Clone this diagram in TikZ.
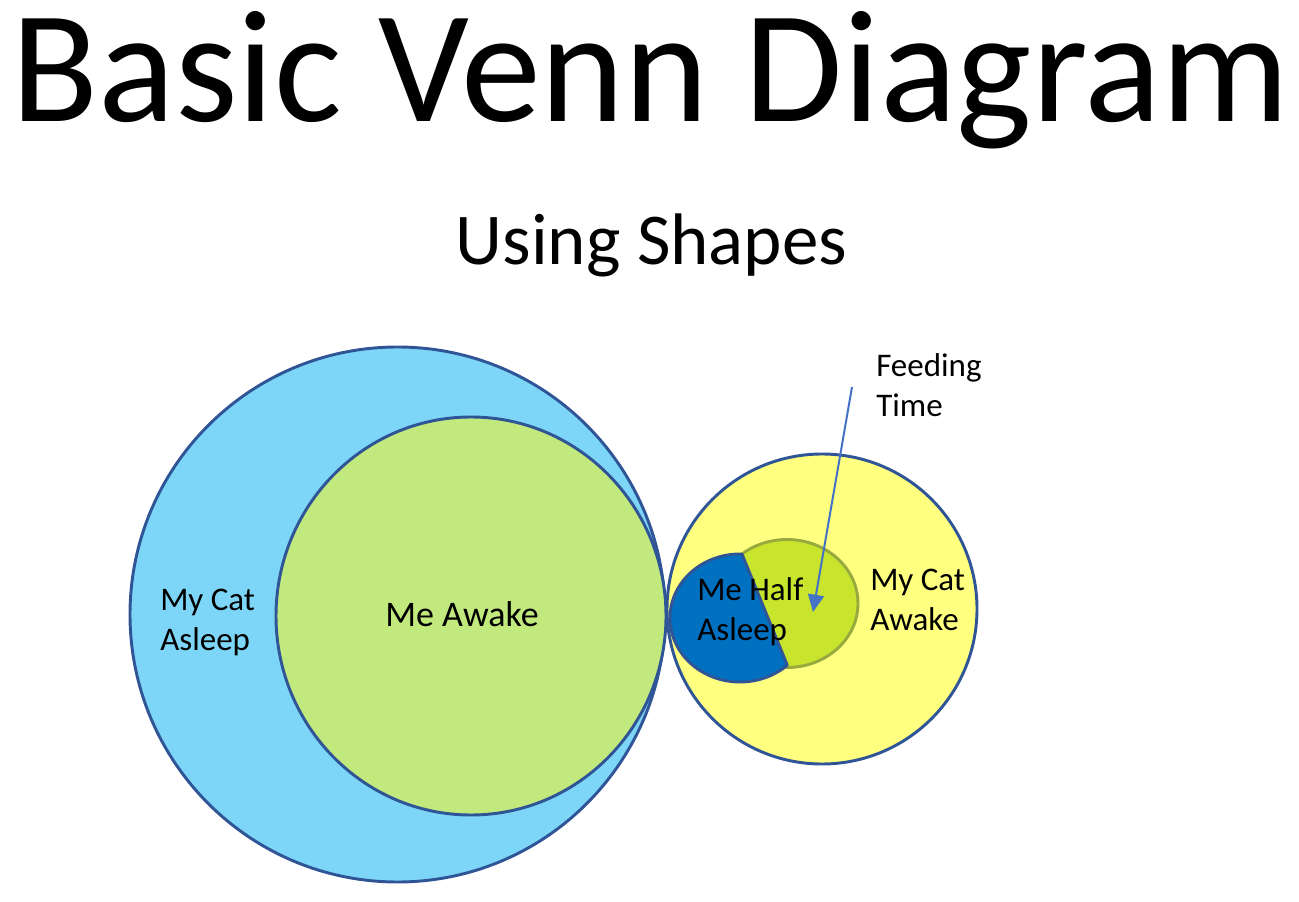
\documentclass[tikz,border=0pt]{standalone}
\usepackage{fontspec}
\setmainfont{Carlito}
\usetikzlibrary{arrows.meta}
\definecolor{skyfill}{RGB}{125,214,247}
\definecolor{edgeblue}{RGB}{47,85,151}
\definecolor{limefill}{RGB}{194,233,125}
\definecolor{yelfill}{RGB}{255,255,128}
\definecolor{deepblue}{RGB}{0,112,192}
\definecolor{chartfill}{RGB}{201,228,44}
\definecolor{oliveedge}{RGB}{152,170,62}
\definecolor{arrowblue}{RGB}{68,114,196}
\tikzset{
  setshape/.style={draw=edgeblue, line width=2.2pt},
  lbl/.style={font=\fontsize{24.75}{30}\selectfont, align=left, anchor=base west, inner sep=0pt},
}
\begin{document}
\begin{tikzpicture}[x=0.75pt,y=0.75pt]
\useasboundingbox (0,0) rectangle (1299,901);
% sets
\draw[setshape, fill=skyfill] (397.5,286.5) circle[radius=267.5];
\draw[setshape, fill=limefill] (471,285) ellipse[x radius=195, y radius=199];
\draw[setshape, fill=yelfill] (822,292) circle[radius=155];
\draw[draw=oliveedge, line width=2.2pt, fill=chartfill] (787,297.5) ellipse[x radius=71, y radius=64];
\draw[setshape, fill=deepblue, line join=round]
  (741.95,346.97) arc[start angle=88.4, end angle=312.5, x radius=70, y radius=64] -- cycle;
% titles
\node[font=\fontsize{120}{140}\selectfont, anchor=base, inner sep=0pt] (title) at (650.5,779) {Basic Venn Diagram};
\node[font=\fontsize{54.75}{66}\selectfont, anchor=base, inner sep=0pt] (sub) at (651.5,636) {Using Shapes};
% labels
\node[font=\fontsize{27}{32}\selectfont, anchor=base, inner sep=0pt] (awake) at (462,275) {Me Awake};
\node[lbl] (catasleep) at (160,251) {My Cat\\Asleep};
\node[lbl] (half) at (697,261) {Me Half\\Asleep};
\node[lbl] (catawake) at (870,271) {My Cat\\Awake};
\node[lbl] (feed) at (876,484) {Feeding\\Time};
% arrow
\coordinate (arrstart) at (852,514);
\coordinate (arrend) at (813,289);
\draw[arrowblue, line width=1.5pt, -{Triangle[length=13pt,width=12pt]}] (arrstart) -- (arrend);
\end{tikzpicture}
\end{document}
